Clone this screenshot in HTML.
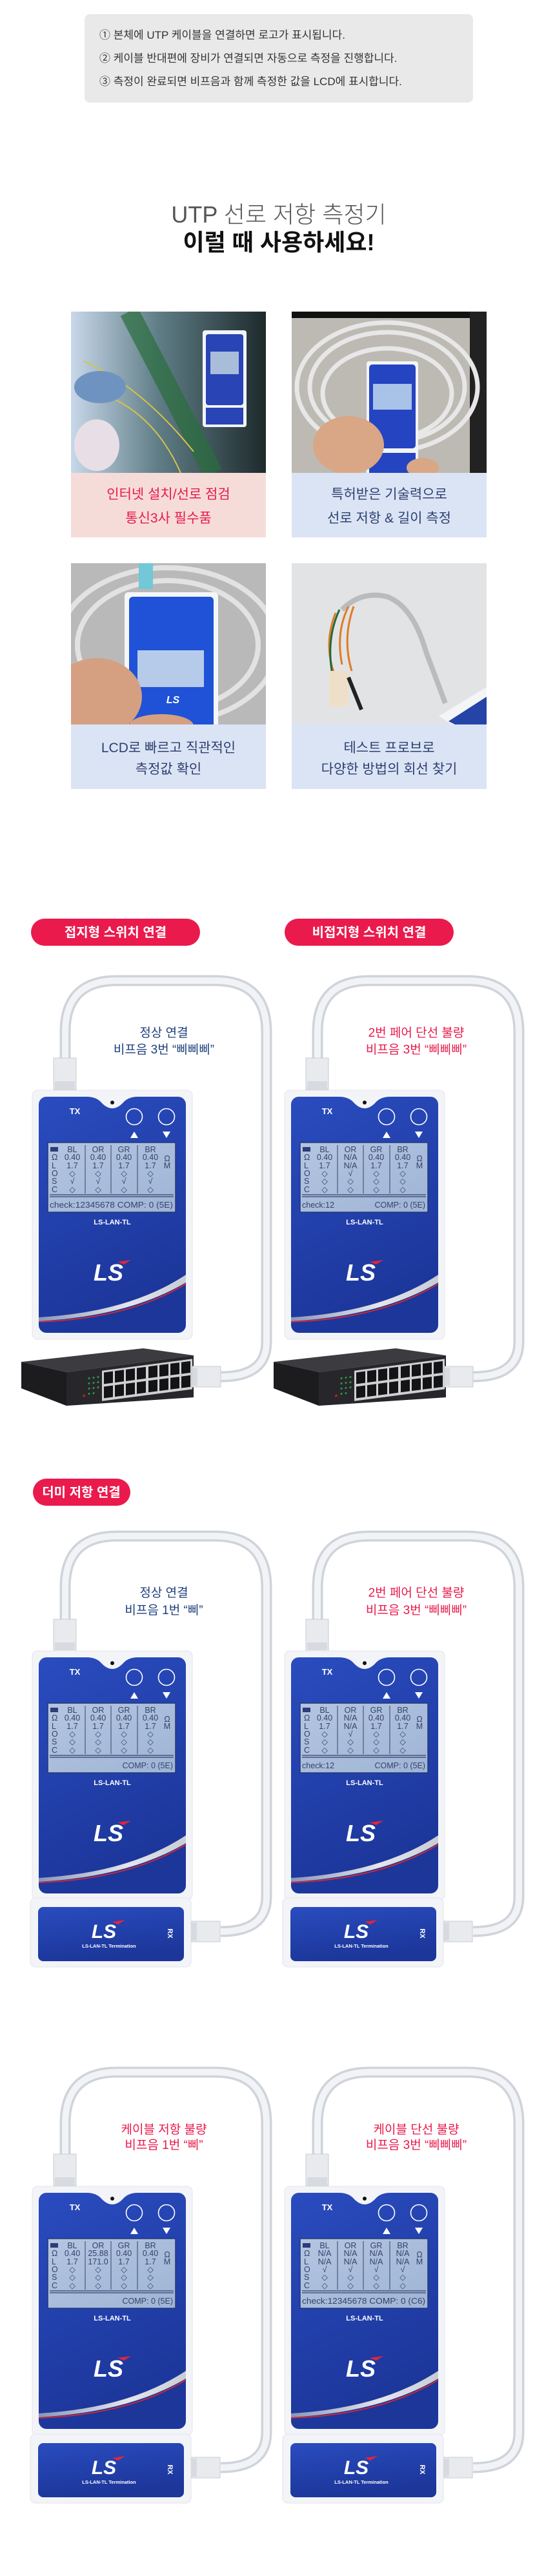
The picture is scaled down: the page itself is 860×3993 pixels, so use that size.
<!DOCTYPE html>
<html><head><meta charset="utf-8">
<style>
html,body{margin:0;padding:0;background:#fff;}
svg{display:block;}
.kr{font-family:"Liberation Sans","Noto Sans CJK KR",sans-serif;}
.lcd{font-family:"Liberation Sans","DejaVu Sans",sans-serif;font-size:12.5px;fill:#34426c;text-anchor:middle;}
.lcdl{font-family:"Liberation Sans","DejaVu Sans",sans-serif;font-size:12.5px;fill:#34426c;}
</style></head>
<body>
<svg width="860" height="3993" viewBox="0 0 860 3993" xmlns="http://www.w3.org/2000/svg">
<defs>
<linearGradient id="blueg" x1="0" y1="0" x2="0.3" y2="1">
<stop offset="0" stop-color="#2a4cbf"/><stop offset="1" stop-color="#1c369a"/></linearGradient>
<linearGradient id="scr" x1="0" y1="0" x2="1" y2="1">
<stop offset="0" stop-color="#b3c5e0"/><stop offset="1" stop-color="#9fb4d6"/></linearGradient>
<linearGradient id="sw" x1="0" y1="0" x2="1" y2="0">
<stop offset="0" stop-color="#8a96b8"/><stop offset="0.6" stop-color="#e4e6ec"/><stop offset="1" stop-color="#c9ccd4"/></linearGradient>
<g id="dev">
<rect x="0" y="0" width="248" height="386" rx="8" fill="#f3f4f7" stroke="#e2e4ea"/>
<rect x="10" y="10" width="228" height="366" rx="12" fill="url(#blueg)"/>
<path d="M84,10 Q100,10 108,20 Q124,36 140,20 Q148,10 164,10 Z" fill="#f3f4f7"/>
<circle cx="124" cy="19" r="3" fill="#111"/>
<text x="66" y="37" font-family="Liberation Sans,sans-serif" font-weight="bold" font-size="13" fill="#fff" text-anchor="middle">TX</text>
<circle cx="158" cy="41" r="12.5" fill="none" stroke="#fff" stroke-width="1.6"/>
<circle cx="208" cy="41" r="12.5" fill="none" stroke="#fff" stroke-width="1.6"/>
<path d="M152,74 L164,74 L158,64 Z" fill="#fff"/>
<path d="M202,64 L214,64 L208,74 Z" fill="#fff"/>
<rect x="24" y="81" width="198" height="108" fill="url(#scr)" stroke="#233877" stroke-width="1.5"/>
<rect x="28" y="88" width="12" height="7" fill="#2c3d78"/>
<path d="M82,85 V160 M122,85 V160 M163,85 V160" stroke="#34426c" stroke-width="1"/>
<path d="M27,162 H219 M27,165 H219" stroke="#34426c" stroke-width="1.2"/>
<text x="124" y="208" font-family="Liberation Sans,sans-serif" font-weight="bold" font-size="11" fill="#fff" text-anchor="middle">LS-LAN-TL</text>
<text x="118" y="295" font-family="Liberation Sans,sans-serif" font-weight="bold" font-style="italic" font-size="36" fill="#fff" text-anchor="middle">LS</text>
<path d="M132,266 L153,263 L142,270 Z" fill="#e5243a"/>
<path d="M10,352 Q150,344 238,286 L238,298 Q150,350 10,358 Z" fill="url(#sw)"/>
<path d="M10,359 Q150,354 238,300" fill="none" stroke="#d8282f" stroke-width="1.8"/>
</g>
<g id="rx">
<rect x="0" y="0" width="249" height="107" rx="8" fill="#f3f4f7" stroke="#e2e4ea"/>
<rect x="12" y="14" width="226" height="84" rx="8" fill="url(#blueg)"/>
<text x="114" y="62" font-family="Liberation Sans,sans-serif" font-weight="bold" font-style="italic" font-size="30" fill="#fff" text-anchor="middle">LS</text>
<path d="M127,37 L147,34 L136,41 Z" fill="#e5243a"/>
<text x="122" y="77" font-family="Liberation Sans,sans-serif" font-weight="bold" font-size="7.5" fill="#fff" text-anchor="middle">LS-LAN-TL Termination</text>
<text x="0" y="0" transform="translate(213,55) rotate(90)" font-family="Liberation Sans,sans-serif" font-weight="bold" font-size="11" fill="#fff" text-anchor="middle">RX</text>
</g>
<g id="conn">
<rect x="0" y="0" width="35" height="49" fill="#e8eaee" stroke="#c8ccd3"/>
<rect x="2" y="36" width="31" height="12" fill="#d7dbe1"/>
</g>
<g id="sconn">
<rect x="0" y="0" width="44" height="32" fill="#e8eaee" stroke="#c8ccd3"/>
<rect x="0" y="2" width="8" height="28" fill="#d7dbe1"/>
</g>
<g id="switch">
<polygon points="33,2111 222,2090 300,2101 103,2127" fill="#3c3c40"/>
<polygon points="33,2111 103,2127 103,2179 33,2152" fill="#1c1c1e"/>
<polygon points="103,2127 300,2101 300,2166 103,2179" fill="#27272b"/>
<g transform="translate(103,2127) skewY(-7.5)">
<rect x="55" y="5" width="140" height="47" fill="#cfd0d2"/>
<g fill="#141416">
<rect x="58" y="8" width="14" height="18"/><rect x="75" y="8" width="14" height="18"/><rect x="92" y="8" width="14" height="18"/><rect x="109" y="8" width="14" height="18"/>
<rect x="58" y="30" width="14" height="18"/><rect x="75" y="30" width="14" height="18"/><rect x="92" y="30" width="14" height="18"/><rect x="109" y="30" width="14" height="18"/>
<rect x="127" y="8" width="14" height="18"/><rect x="144" y="8" width="14" height="18"/><rect x="161" y="8" width="14" height="18"/><rect x="178" y="8" width="14" height="18"/>
<rect x="127" y="30" width="14" height="18"/><rect x="144" y="30" width="14" height="18"/><rect x="161" y="30" width="14" height="18"/><rect x="178" y="30" width="14" height="18"/>
</g>
<g fill="#2e9a47"><circle cx="35" cy="14" r="1.5"/><circle cx="42" cy="14" r="1.5"/><circle cx="49" cy="14" r="1.5"/><circle cx="35" cy="22" r="1.5"/><circle cx="42" cy="22" r="1.5"/><circle cx="49" cy="22" r="1.5"/><circle cx="35" cy="30" r="1.5"/><circle cx="42" cy="30" r="1.5"/><circle cx="49" cy="30" r="1.5"/><circle cx="35" cy="38" r="1.5"/><circle cx="42" cy="38" r="1.5"/></g>
<circle cx="27" cy="40" r="2" fill="#b42020"/>
</g>
</g>
</defs>

<!-- top info box -->
<rect x="131" y="22" width="602" height="137" rx="8" fill="#e9e9e9"/>
<g class="kr" font-size="17" fill="#333">
<text x="154" y="60">① 본체에 UTP 케이블을 연결하면 로고가 표시됩니다.</text>
<text x="154" y="96">② 케이블 반대편에 장비가 연결되면 자동으로 측정을 진행합니다.</text>
<text x="154" y="132">③ 측정이 완료되면 비프음과 함께 측정한 값을 LCD에 표시합니다.</text>
</g>
<text class="kr" x="432" y="345" font-size="36" font-weight="300" fill="#555" text-anchor="middle">UTP 선로 저항 측정기</text>
<text class="kr" x="432" y="388" font-size="36" font-weight="bold" fill="#111" text-anchor="middle">이럴 때 사용하세요!</text>

<!-- cards -->
<defs>
<linearGradient id="c1" x1="0" y1="0" x2="1" y2="0"><stop offset="0" stop-color="#c8d8ea"/><stop offset="0.45" stop-color="#5f7d86"/><stop offset="1" stop-color="#1d2a2c"/></linearGradient>
<clipPath id="k1"><rect x="110" y="483" width="302" height="250"/></clipPath>
<clipPath id="k2"><rect x="452" y="483" width="302" height="250"/></clipPath>
<clipPath id="k3"><rect x="110" y="873" width="302" height="250"/></clipPath>
<clipPath id="k4"><rect x="452" y="873" width="302" height="250"/></clipPath>
</defs>
<g clip-path="url(#k1)">
<rect x="110" y="483" width="302" height="250" fill="url(#c1)"/>
<path d="M200,483 L330,733" stroke="#2a6e3d" stroke-width="30" opacity="0.7"/>
<path d="M130,560 Q220,600 300,700 M120,600 Q230,620 280,733" stroke="#d6c24a" stroke-width="2" fill="none"/>
<ellipse cx="155" cy="600" rx="40" ry="25" fill="#6f93c1"/>
<ellipse cx="150" cy="690" rx="35" ry="40" fill="#e8dfe6"/>
<rect x="314" y="512" width="68" height="150" rx="4" fill="#f2f3f6"/>
<rect x="319" y="518" width="58" height="110" rx="4" fill="#2844b5"/>
<rect x="326" y="545" width="44" height="35" fill="#a9bddb"/>
<rect x="319" y="632" width="58" height="26" fill="#2844b5"/>
</g>
<g clip-path="url(#k2)">
<rect x="452" y="483" width="302" height="250" fill="#bdbab4"/>
<rect x="452" y="483" width="302" height="10" fill="#111"/>
<rect x="728" y="483" width="26" height="250" fill="#222"/>
<g fill="none" stroke="#e7e7e7" stroke-width="7"><ellipse cx="600" cy="600" rx="140" ry="100"/><ellipse cx="600" cy="600" rx="120" ry="85"/><ellipse cx="600" cy="610" rx="100" ry="70"/></g>
<rect x="568" y="560" width="80" height="188" rx="4" fill="#f2f3f6"/>
<rect x="572" y="565" width="72" height="130" rx="5" fill="#2444c2"/>
<rect x="578" y="595" width="60" height="40" fill="#a9c2e8"/>
<rect x="572" y="702" width="72" height="34" fill="#2444c2"/>
<ellipse cx="540" cy="690" rx="55" ry="45" fill="#d9a785"/>
<ellipse cx="655" cy="725" rx="25" ry="15" fill="#d9a785"/>
</g>
<g clip-path="url(#k3)">
<rect x="110" y="873" width="302" height="250" fill="#b9b9b9"/>
<g fill="none" stroke="#e2e2e2" stroke-width="8"><ellipse cx="260" cy="1000" rx="170" ry="120"/><ellipse cx="260" cy="1000" rx="140" ry="100"/></g>
<rect x="215" y="873" width="22" height="40" fill="#72c8d6"/>
<rect x="193" y="918" width="145" height="215" rx="6" fill="#f5f6f8"/>
<rect x="200" y="925" width="131" height="210" rx="6" fill="#1f52d6"/>
<rect x="213" y="1008" width="103" height="57" fill="#b5cbe9"/>
<text x="268" y="1090" font-family="Liberation Sans,sans-serif" font-weight="bold" font-style="italic" font-size="16" fill="#fff" text-anchor="middle">LS</text>
<ellipse cx="150" cy="1080" rx="70" ry="60" fill="#d5a082"/>
<ellipse cx="250" cy="1125" rx="50" ry="18" fill="#d5a082"/>
</g>
<g clip-path="url(#k4)">
<rect x="452" y="873" width="302" height="250" fill="#e2e3e5"/>
<path d="M530,945 Q560,915 600,925 Q640,940 660,1010 L690,1090" stroke="#b9bbbd" stroke-width="8" fill="none"/>
<path d="M540,940 Q520,980 530,1030 M548,940 Q530,990 545,1040 M520,950 Q500,1000 520,1050" stroke="#e07b25" stroke-width="3" fill="none"/>
<path d="M526,945 Q505,990 515,1045" stroke="#1f6b3a" stroke-width="3" fill="none"/>
<rect x="510" y="1040" width="30" height="55" fill="#eee0c8"/>
<path d="M540,1050 L560,1100" stroke="#222" stroke-width="6"/>
<polygon points="680,1110 754,1065 754,1123 700,1123" fill="#f4f5f7"/>
<polygon points="695,1118 754,1080 754,1123 705,1123" fill="#2444a8"/>
</g>
<rect x="110" y="733" width="302" height="100" fill="#f6dcd8"/>
<rect x="452" y="733" width="302" height="100" fill="#dbe4f5"/>
<rect x="110" y="1123" width="302" height="100" fill="#dbe4f5"/>
<rect x="452" y="1123" width="302" height="100" fill="#dbe4f5"/>
<g class="kr" font-size="21" text-anchor="middle">
<text x="261" y="773" fill="#e8194a">인터넷 설치/선로 점검</text>
<text x="261" y="810" fill="#e8194a">통신3사 필수품</text>
<text x="603" y="773" fill="#2d3f6e">특허받은 기술력으로</text>
<text x="603" y="810" fill="#2d3f6e">선로 저항 &amp; 길이 측정</text>
<text x="261" y="1166" fill="#2d3f6e">LCD로 빠르고 직관적인</text>
<text x="261" y="1199" fill="#2d3f6e">측정값 확인</text>
<text x="603" y="1166" fill="#2d3f6e">테스트 프로브로</text>
<text x="603" y="1199" fill="#2d3f6e">다양한 방법의 회선 찾기</text>
</g>

<!-- pills -->
<rect x="48" y="1424" width="262" height="42" rx="21" fill="#ea1a4d"/>
<rect x="441" y="1424" width="262" height="42" rx="21" fill="#ea1a4d"/>
<rect x="51" y="2292" width="151" height="42" rx="21" fill="#ea1a4d"/>
<g class="kr" font-size="20" font-weight="bold" fill="#fff" text-anchor="middle">
<text x="179" y="1452">접지형 스위치 연결</text>
<text x="572" y="1452">비접지형 스위치 연결</text>
<text x="126" y="2320">더미 저항 연결</text>
</g>

<!-- cables -->
<g fill="none" stroke-linecap="butt">
<g id="cab1">
<path d="M101,1642 V1600 Q101,1520 181,1520 H333 Q413,1520 413,1600 V2080 Q413,2134 342,2134" stroke="#cfd3da" stroke-width="17"/>
<path d="M101,1642 V1600 Q101,1520 181,1520 H333 Q413,1520 413,1600 V2080 Q413,2134 342,2134" stroke="#f1f3f6" stroke-width="10"/>
</g>
<path d="M492,1642 V1600 Q492,1520 572,1520 H724 Q804,1520 804,1600 V2080 Q804,2134 733,2134" stroke="#cfd3da" stroke-width="17"/>
<path d="M492,1642 V1600 Q492,1520 572,1520 H724 Q804,1520 804,1600 V2080 Q804,2134 733,2134" stroke="#f1f3f6" stroke-width="10"/>
<path d="M101,2512 V2461 Q101,2381 181,2381 H333 Q413,2381 413,2461 V2940 Q413,2994 342,2994" stroke="#cfd3da" stroke-width="17"/>
<path d="M101,2512 V2461 Q101,2381 181,2381 H333 Q413,2381 413,2461 V2940 Q413,2994 342,2994" stroke="#f1f3f6" stroke-width="10"/>
<path d="M492,2512 V2461 Q492,2381 572,2381 H724 Q804,2381 804,2461 V2940 Q804,2994 733,2994" stroke="#cfd3da" stroke-width="17"/>
<path d="M492,2512 V2461 Q492,2381 572,2381 H724 Q804,2381 804,2461 V2940 Q804,2994 733,2994" stroke="#f1f3f6" stroke-width="10"/>
<path d="M101,3340 V3292 Q101,3212 181,3212 H333 Q413,3212 413,3292 V3770 Q413,3825 342,3825" stroke="#cfd3da" stroke-width="17"/>
<path d="M101,3340 V3292 Q101,3212 181,3212 H333 Q413,3212 413,3292 V3770 Q413,3825 342,3825" stroke="#f1f3f6" stroke-width="10"/>
<path d="M492,3340 V3292 Q492,3212 572,3212 H724 Q804,3212 804,3292 V3770 Q804,3825 733,3825" stroke="#cfd3da" stroke-width="17"/>
<path d="M492,3340 V3292 Q492,3212 572,3212 H724 Q804,3212 804,3292 V3770 Q804,3825 733,3825" stroke="#f1f3f6" stroke-width="10"/>
</g>

<!-- labels -->
<g class="kr" font-size="19" text-anchor="middle">
<text x="254" y="1607" fill="#1d3f7c">정상 연결</text>
<text x="254" y="1633" fill="#1d3f7c">비프음 3번 “삐삐삐”</text>
<text x="645" y="1607" fill="#e8194a">2번 페어 단선 불량</text>
<text x="645" y="1633" fill="#e8194a">비프음 3번 “삐삐삐”</text>
<text x="254" y="2475" fill="#1d3f7c">정상 연결</text>
<text x="254" y="2502" fill="#1d3f7c">비프음 1번 “삐”</text>
<text x="645" y="2475" fill="#e8194a">2번 페어 단선 불량</text>
<text x="645" y="2502" fill="#e8194a">비프음 3번 “삐삐삐”</text>
<text x="254" y="3307" fill="#e8194a">케이블 저항 불량</text>
<text x="254" y="3331" fill="#e8194a">비프음 1번 “삐”</text>
<text x="645" y="3307" fill="#e8194a">케이블 단선 불량</text>
<text x="645" y="3331" fill="#e8194a">비프음 3번 “삐삐삐”</text>
</g>

<!-- connectors -->
<use href="#conn" x="83" y="1640"/><use href="#conn" x="474" y="1640"/>
<use href="#conn" x="83" y="2510"/><use href="#conn" x="474" y="2510"/>
<use href="#conn" x="83" y="3339"/><use href="#conn" x="474" y="3339"/>

<!-- devices -->
<use href="#dev" x="50" y="1690"/><use href="#dev" x="441" y="1690"/>
<use href="#dev" x="50" y="2559"/><use href="#dev" x="441" y="2559"/>
<use href="#dev" x="50" y="3389"/><use href="#dev" x="441" y="3389"/>

<!-- switches -->
<use href="#switch" x="0" y="0"/>
<use href="#switch" x="391" y="0"/>
<use href="#sconn" x="298" y="2118"/><use href="#sconn" x="689" y="2118"/>

<!-- RX units -->
<use href="#rx" x="47" y="2942"/><use href="#rx" x="438" y="2942"/>
<use href="#rx" x="47" y="3773"/><use href="#rx" x="438" y="3773"/>
<use href="#sconn" x="297" y="2978"/><use href="#sconn" x="688" y="2978"/>
<use href="#sconn" x="297" y="3809"/><use href="#sconn" x="688" y="3809"/>

<!-- LCD contents -->
<!-- S1 left -->
<g transform="translate(50,1690)">
<text class="lcdl"><tspan x="30" y="108">Ω</tspan><tspan x="30" y="121">L</tspan><tspan x="30" y="133">O</tspan><tspan x="30" y="145">S</tspan><tspan x="30" y="158">C</tspan></text>
<text class="lcd"><tspan x="62" y="96">BL</tspan><tspan x="62" y="108">0.40</tspan><tspan x="62" y="121">1.7</tspan><tspan x="62" y="133">◇</tspan><tspan x="62" y="145">√</tspan><tspan x="62" y="158">◇</tspan></text>
<text class="lcd"><tspan x="102" y="96">OR</tspan><tspan x="102" y="108">0.40</tspan><tspan x="102" y="121">1.7</tspan><tspan x="102" y="133">◇</tspan><tspan x="102" y="145">√</tspan><tspan x="102" y="158">◇</tspan></text>
<text class="lcd"><tspan x="142" y="96">GR</tspan><tspan x="142" y="108">0.40</tspan><tspan x="142" y="121">1.7</tspan><tspan x="142" y="133">◇</tspan><tspan x="142" y="145">√</tspan><tspan x="142" y="158">◇</tspan></text>
<text class="lcd"><tspan x="183" y="96">BR</tspan><tspan x="183" y="108">0.40</tspan><tspan x="183" y="121">1.7</tspan><tspan x="183" y="133">◇</tspan><tspan x="183" y="145">√</tspan><tspan x="183" y="158">◇</tspan></text>
<text class="lcd"><tspan x="209" y="110">Ω</tspan><tspan x="209" y="121">M</tspan></text>
<text class="lcdl" x="27" y="182" textLength="191" lengthAdjust="spacingAndGlyphs">check:12345678 COMP: 0 (5E)</text>
</g>
<!-- S1 right -->
<g transform="translate(441,1690)">
<text class="lcdl"><tspan x="30" y="108">Ω</tspan><tspan x="30" y="121">L</tspan><tspan x="30" y="133">O</tspan><tspan x="30" y="145">S</tspan><tspan x="30" y="158">C</tspan></text>
<text class="lcd"><tspan x="62" y="96">BL</tspan><tspan x="62" y="108">0.40</tspan><tspan x="62" y="121">1.7</tspan><tspan x="62" y="133">◇</tspan><tspan x="62" y="145">◇</tspan><tspan x="62" y="158">◇</tspan></text>
<text class="lcd"><tspan x="102" y="96">OR</tspan><tspan x="102" y="108">N/A</tspan><tspan x="102" y="121">N/A</tspan><tspan x="102" y="133">√</tspan><tspan x="102" y="145">◇</tspan><tspan x="102" y="158">◇</tspan></text>
<text class="lcd"><tspan x="142" y="96">GR</tspan><tspan x="142" y="108">0.40</tspan><tspan x="142" y="121">1.7</tspan><tspan x="142" y="133">◇</tspan><tspan x="142" y="145">◇</tspan><tspan x="142" y="158">◇</tspan></text>
<text class="lcd"><tspan x="183" y="96">BR</tspan><tspan x="183" y="108">0.40</tspan><tspan x="183" y="121">1.7</tspan><tspan x="183" y="133">◇</tspan><tspan x="183" y="145">◇</tspan><tspan x="183" y="158">◇</tspan></text>
<text class="lcd"><tspan x="209" y="110">Ω</tspan><tspan x="209" y="121">M</tspan></text>
<text class="lcdl" x="27" y="182">check:12</text>
<text class="lcdl" x="218" y="182" text-anchor="end">COMP: 0 (5E)</text>
</g>
<!-- S2 left -->
<g transform="translate(50,2559)">
<text class="lcdl"><tspan x="30" y="108">Ω</tspan><tspan x="30" y="121">L</tspan><tspan x="30" y="133">O</tspan><tspan x="30" y="145">S</tspan><tspan x="30" y="158">C</tspan></text>
<text class="lcd"><tspan x="62" y="96">BL</tspan><tspan x="62" y="108">0.40</tspan><tspan x="62" y="121">1.7</tspan><tspan x="62" y="133">◇</tspan><tspan x="62" y="145">◇</tspan><tspan x="62" y="158">◇</tspan></text>
<text class="lcd"><tspan x="102" y="96">OR</tspan><tspan x="102" y="108">0.40</tspan><tspan x="102" y="121">1.7</tspan><tspan x="102" y="133">◇</tspan><tspan x="102" y="145">◇</tspan><tspan x="102" y="158">◇</tspan></text>
<text class="lcd"><tspan x="142" y="96">GR</tspan><tspan x="142" y="108">0.40</tspan><tspan x="142" y="121">1.7</tspan><tspan x="142" y="133">◇</tspan><tspan x="142" y="145">◇</tspan><tspan x="142" y="158">◇</tspan></text>
<text class="lcd"><tspan x="183" y="96">BR</tspan><tspan x="183" y="108">0.40</tspan><tspan x="183" y="121">1.7</tspan><tspan x="183" y="133">◇</tspan><tspan x="183" y="145">◇</tspan><tspan x="183" y="158">◇</tspan></text>
<text class="lcd"><tspan x="209" y="110">Ω</tspan><tspan x="209" y="121">M</tspan></text>
<text class="lcdl" x="218" y="182" text-anchor="end">COMP: 0 (5E)</text>
</g>
<!-- S2 right -->
<g transform="translate(441,2559)">
<text class="lcdl"><tspan x="30" y="108">Ω</tspan><tspan x="30" y="121">L</tspan><tspan x="30" y="133">O</tspan><tspan x="30" y="145">S</tspan><tspan x="30" y="158">C</tspan></text>
<text class="lcd"><tspan x="62" y="96">BL</tspan><tspan x="62" y="108">0.40</tspan><tspan x="62" y="121">1.7</tspan><tspan x="62" y="133">◇</tspan><tspan x="62" y="145">◇</tspan><tspan x="62" y="158">◇</tspan></text>
<text class="lcd"><tspan x="102" y="96">OR</tspan><tspan x="102" y="108">N/A</tspan><tspan x="102" y="121">N/A</tspan><tspan x="102" y="133">√</tspan><tspan x="102" y="145">◇</tspan><tspan x="102" y="158">◇</tspan></text>
<text class="lcd"><tspan x="142" y="96">GR</tspan><tspan x="142" y="108">0.40</tspan><tspan x="142" y="121">1.7</tspan><tspan x="142" y="133">◇</tspan><tspan x="142" y="145">◇</tspan><tspan x="142" y="158">◇</tspan></text>
<text class="lcd"><tspan x="183" y="96">BR</tspan><tspan x="183" y="108">0.40</tspan><tspan x="183" y="121">1.7</tspan><tspan x="183" y="133">◇</tspan><tspan x="183" y="145">◇</tspan><tspan x="183" y="158">◇</tspan></text>
<text class="lcd"><tspan x="209" y="110">Ω</tspan><tspan x="209" y="121">M</tspan></text>
<text class="lcdl" x="27" y="182">check:12</text>
<text class="lcdl" x="218" y="182" text-anchor="end">COMP: 0 (5E)</text>
</g>
<!-- S3 left -->
<g transform="translate(50,3389)">
<text class="lcdl"><tspan x="30" y="108">Ω</tspan><tspan x="30" y="121">L</tspan><tspan x="30" y="133">O</tspan><tspan x="30" y="145">S</tspan><tspan x="30" y="158">C</tspan></text>
<text class="lcd"><tspan x="62" y="96">BL</tspan><tspan x="62" y="108">0.40</tspan><tspan x="62" y="121">1.7</tspan><tspan x="62" y="133">◇</tspan><tspan x="62" y="145">◇</tspan><tspan x="62" y="158">◇</tspan></text>
<text class="lcd"><tspan x="102" y="96">OR</tspan><tspan x="102" y="108">25.88</tspan><tspan x="102" y="121">171.0</tspan><tspan x="102" y="133">◇</tspan><tspan x="102" y="145">◇</tspan><tspan x="102" y="158">◇</tspan></text>
<text class="lcd"><tspan x="142" y="96">GR</tspan><tspan x="142" y="108">0.40</tspan><tspan x="142" y="121">1.7</tspan><tspan x="142" y="133">◇</tspan><tspan x="142" y="145">◇</tspan><tspan x="142" y="158">◇</tspan></text>
<text class="lcd"><tspan x="183" y="96">BR</tspan><tspan x="183" y="108">0.40</tspan><tspan x="183" y="121">1.7</tspan><tspan x="183" y="133">◇</tspan><tspan x="183" y="145">◇</tspan><tspan x="183" y="158">◇</tspan></text>
<text class="lcd"><tspan x="209" y="110">Ω</tspan><tspan x="209" y="121">M</tspan></text>
<text class="lcdl" x="218" y="182" text-anchor="end">COMP: 0 (5E)</text>
</g>
<!-- S3 right -->
<g transform="translate(441,3389)">
<text class="lcdl"><tspan x="30" y="108">Ω</tspan><tspan x="30" y="121">L</tspan><tspan x="30" y="133">O</tspan><tspan x="30" y="145">S</tspan><tspan x="30" y="158">C</tspan></text>
<text class="lcd"><tspan x="62" y="96">BL</tspan><tspan x="62" y="108">N/A</tspan><tspan x="62" y="121">N/A</tspan><tspan x="62" y="133">√</tspan><tspan x="62" y="145">◇</tspan><tspan x="62" y="158">◇</tspan></text>
<text class="lcd"><tspan x="102" y="96">OR</tspan><tspan x="102" y="108">N/A</tspan><tspan x="102" y="121">N/A</tspan><tspan x="102" y="133">√</tspan><tspan x="102" y="145">◇</tspan><tspan x="102" y="158">◇</tspan></text>
<text class="lcd"><tspan x="142" y="96">GR</tspan><tspan x="142" y="108">N/A</tspan><tspan x="142" y="121">N/A</tspan><tspan x="142" y="133">√</tspan><tspan x="142" y="145">◇</tspan><tspan x="142" y="158">◇</tspan></text>
<text class="lcd"><tspan x="183" y="96">BR</tspan><tspan x="183" y="108">N/A</tspan><tspan x="183" y="121">N/A</tspan><tspan x="183" y="133">√</tspan><tspan x="183" y="145">◇</tspan><tspan x="183" y="158">◇</tspan></text>
<text class="lcd"><tspan x="209" y="110">Ω</tspan><tspan x="209" y="121">M</tspan></text>
<text class="lcdl" x="27" y="182" textLength="191" lengthAdjust="spacingAndGlyphs">check:12345678 COMP: 0 (C6)</text>
</g>
</svg>
</body></html>
